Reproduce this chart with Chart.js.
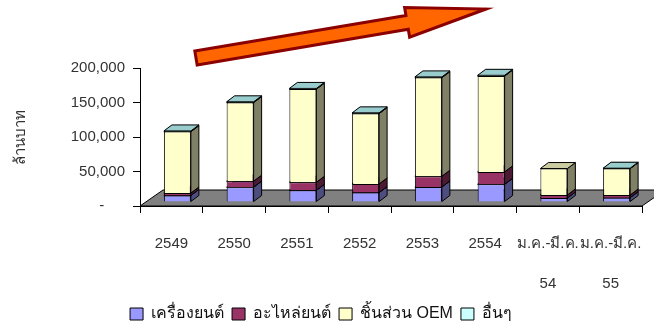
<!DOCTYPE html>
<html>
<head>
<meta charset="utf-8">
<script src="https://cdn.jsdelivr.net/npm/chart.js@4/dist/chart.umd.min.js"></script>
<style>
  html, body { margin: 0; padding: 0; background: #fff; }
  #wrap { width: 654px; height: 324px; position: relative; }
</style>
</head>
<body>
<div id="wrap"><canvas id="chart"></canvas></div>
<script>
// values in million baht
const categories = ['2549', '2550', '2551', '2552', '2553', '2554', ['ม.ค.-มี.ค.', '54'], ['ม.ค.-มี.ค.', '55']];
const seriesNames = ['เครื่องยนต์', 'อะไหล่ยนต์', 'ชิ้นส่วน OEM', 'อื่นๆ'];
const engine = [9500, 21500, 17000, 13700, 21800, 25700, 5800, 6300];
const spareParts = [3500, 8700, 11600, 12500, 15500, 17900, 4400, 3800];
const oemParts = [89000, 114000, 135000, 102000, 143000, 139000, 38300, 38300];
const others = [1000, 1000, 1000, 1000, 1000, 1000, 0, 600];
const yTicks = [0, 50000, 100000, 150000, 200000];
const yTitle = 'ล้านบาท';

const frontColors = ['#9999FF', '#993366', '#FFFFCC', '#CCFFFF'];
const sideColors = ['#4D4D80', '#4D1A33', '#808066', '#668080'];
const topColors = ['#7A7ACC', '#7A2952', '#CCCCA3', '#99CCCC'];
const font = "'Liberation Sans', Arial, 'Noto Sans', sans-serif";

const barDepth = { dx: 8, dy: -6 };
const floorDepth = { dx: 23, dy: -16 };
const barShift = { dx: 6, dy: -4 };

function poly(ctx, pts, fill) {
    ctx.beginPath();
    ctx.moveTo(pts[0][0], pts[0][1]);
    for (let k = 1; k < pts.length; k++) ctx.lineTo(pts[k][0], pts[k][1]);
    ctx.closePath();
    ctx.fillStyle = fill;
    ctx.fill();
    ctx.strokeStyle = '#000';
    ctx.lineWidth = 1;
    ctx.stroke();
}

// the orange trend arrow over the chart
function drawArrow(ctx) {
    const tail = [196, 58], tip = [486, 9];
    const shaftHalf = 7, headHalf = 15, headLen = 80;
    const len = Math.hypot(tip[0] - tail[0], tip[1] - tail[1]);
    const ux = (tip[0] - tail[0]) / len, uy = (tip[1] - tail[1]) / len;
    const px = -uy, py = ux;
    const bx = tip[0] - ux * headLen, by = tip[1] - uy * headLen;
    const pts = [
        [tail[0] - px * shaftHalf, tail[1] - py * shaftHalf],
        [bx - px * shaftHalf, by - py * shaftHalf],
        [bx - px * headHalf, by - py * headHalf],
        tip,
        [bx + px * headHalf, by + py * headHalf],
        [bx + px * shaftHalf, by + py * shaftHalf],
        [tail[0] + px * shaftHalf, tail[1] + py * shaftHalf]
    ];
    ctx.save();
    ctx.beginPath();
    ctx.moveTo(pts[0][0], pts[0][1]);
    pts.slice(1).forEach(p => ctx.lineTo(p[0], p[1]));
    ctx.closePath();
    ctx.fillStyle = '#FF6600';
    ctx.fill();
    ctx.lineJoin = 'miter';
    ctx.lineWidth = 3;
    ctx.strokeStyle = '#8B0000';
    ctx.stroke();
    ctx.restore();
}

const threeD = {
    id: 'threeD',
    beforeDatasetsDraw(chart) {
        const { ctx, chartArea: a } = chart;
        ctx.save();
        poly(ctx, [[a.left, a.bottom], [a.right, a.bottom],
            [a.right + floorDepth.dx, a.bottom + floorDepth.dy], [a.left + floorDepth.dx, a.bottom + floorDepth.dy]], '#808080');
        ctx.restore();

        ctx.save();
        ctx.translate(barShift.dx, barShift.dy);
        const n = chart.data.labels.length;
        for (let i = 0; i < n; i++) {
            chart.data.datasets.forEach((ds, d) => {
                if (!ds.data[i]) return;
                const bar = chart.getDatasetMeta(d).data[i];
                const { x, y, base, width } = bar.getProps(['x', 'y', 'base', 'width'], true);
                const l = x - width / 2, r = x + width / 2;
                poly(ctx, [[r, y], [r + barDepth.dx, y + barDepth.dy], [r + barDepth.dx, base + barDepth.dy], [r, base]], sideColors[d]);
                poly(ctx, [[l, y], [l + barDepth.dx, y + barDepth.dy], [r + barDepth.dx, y + barDepth.dy], [r, y]], topColors[d]);
            });
        }
    },
    afterDatasetsDraw(chart) {
        chart.ctx.restore();
    },
    afterDraw(chart) {
        drawArrow(chart.ctx);
    }
};

const seriesValues = [engine, spareParts, oemParts, others];

new Chart(document.getElementById('chart'), {
    type: 'bar',
    data: {
        labels: categories,
        datasets: seriesValues.map((vals, d) => ({
            label: seriesNames[d],
            data: vals,
            backgroundColor: frontColors[d],
            borderColor: '#000',
            borderWidth: 1,
            categoryPercentage: 1,
            barPercentage: 0.43
        }))
    },
    options: {
        responsive: true,
        maintainAspectRatio: false,
        animation: false,
        layout: { padding: { top: 68, right: 12, left: 0, bottom: -8 } },
        plugins: {
            tooltip: { enabled: false },
            legend: {
                position: 'bottom',
                labels: { color: '#111', font: { family: font, size: 16 }, boxWidth: 13, boxHeight: 12, padding: 8 }
            }
        },
        scales: {
            x: {
                stacked: true,
                offset: true,
                afterFit: s => { s.height = 92; },
                grid: { display: true, offset: true, drawOnChartArea: false, drawTicks: true, tickLength: 7, color: '#000' },
                border: { display: true, color: '#000' },
                ticks: { autoSkip: false, maxRotation: 0, color: '#333', padding: 11,
                    font: { family: font, size: 15, lineHeight: 2.65 } }
            },
            y: {
                stacked: true,
                min: 0, max: 200000,
                afterFit: s => { s.width = 140; },
                afterBuildTicks: s => { s.ticks = yTicks.map(v => ({ value: v })); },
                grid: { display: true, drawOnChartArea: false, drawTicks: true, tickLength: 7, color: '#000' },
                border: { display: true, color: '#000' },
                title: { display: true, text: yTitle, color: '#333', font: { family: font, size: 15 }, padding: { top: 12 } },
                ticks: { color: '#333', padding: 8, font: { family: font, size: 15 },
                    callback: v => v === 0 ? '-     ' : v.toLocaleString('en-US') }
            }
        }
    },
    plugins: [threeD]
});
</script>
</body>
</html>
